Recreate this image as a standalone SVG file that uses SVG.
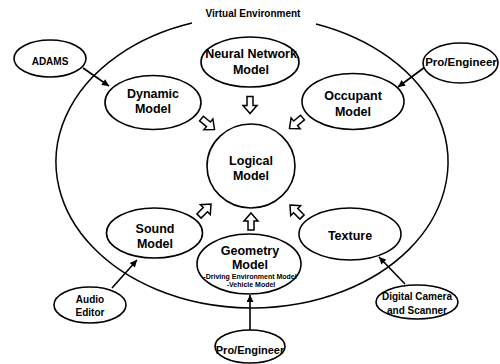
<svg xmlns="http://www.w3.org/2000/svg" width="500" height="364" viewBox="0 0 500 364">
<defs>
<style>
.n{fill:#fff;stroke:#000;stroke-width:1.6}
.env{fill:none;stroke:#000;stroke-width:1.5}
.t{font-family:"Liberation Sans",Arial,sans-serif;font-weight:bold;fill:#000;text-anchor:middle}
.m{font-size:12.5px}
.s{font-size:10.5px}
.x{font-size:7px}
.c{stroke:#000;stroke-width:1.6;fill:none}
.h{fill:#fff;stroke:#000;stroke-width:1.5;stroke-linejoin:miter}
</style>
<marker id="ah" viewBox="0 0 10 10" refX="10" refY="5" markerWidth="8" markerHeight="7" markerUnits="userSpaceOnUse" orient="auto">
<path d="M0,0 L10,5 L0,10 Z" fill="#000"/>
</marker>
<polygon id="ha" points="0,-8.5 7,-0.5 3,-0.5 3,8.5 -3,8.5 -3,-0.5 -7,-0.5"/>
</defs>
<rect width="500" height="364" fill="#fff"/>
<g id="virtual-environment">
<path class="env" d="M192,23 A196,146 0 1 0 316,24"/>
<text class="t" x="253" y="17" font-size="10">Virtual Environment</text>
</g>
<g id="connectors">
<line class="c" x1="83" y1="68" x2="109" y2="86" marker-end="url(#ah)"/>
<line class="c" x1="425" y1="67" x2="398" y2="87" marker-end="url(#ah)"/>
<line class="c" x1="112" y1="288" x2="137" y2="260" marker-end="url(#ah)"/>
<line class="c" x1="405" y1="284" x2="379" y2="257" marker-end="url(#ah)"/>
<line class="c" x1="250" y1="330" x2="250" y2="295" marker-end="url(#ah)"/>
<use href="#ha" class="h" transform="translate(250,105) rotate(180)"/>
<use href="#ha" class="h" transform="translate(208,124) rotate(130)"/>
<use href="#ha" class="h" transform="translate(296,123) rotate(230)"/>
<use href="#ha" class="h" transform="translate(205,210) rotate(45)"/>
<use href="#ha" class="h" transform="translate(251,221.5)"/>
<use href="#ha" class="h" transform="translate(296,211) rotate(-45)"/>
</g>
<g id="adams">
<ellipse class="n" cx="50" cy="58.5" rx="36" ry="18.5"/>
<text class="t" x="50" y="65" font-size="10">ADAMS</text>
</g>
<g id="neural-network-model">
<ellipse class="n" cx="250" cy="62" rx="49" ry="25"/>
<text class="t m" x="251" y="58">Neural Network</text>
<text class="t m" x="251" y="74">Model</text>
</g>
<g id="pro-engineer-top">
<ellipse class="n" cx="460.5" cy="63" rx="37.5" ry="20"/>
<text class="t" x="461" y="66" font-size="11.5">Pro/Engineer</text>
</g>
<g id="dynamic-model">
<ellipse class="n" cx="153" cy="102.5" rx="48" ry="27"/>
<text class="t m" x="153" y="98">Dynamic</text>
<text class="t m" x="153" y="113">Model</text>
</g>
<g id="occupant-model">
<ellipse class="n" cx="353" cy="101.5" rx="51" ry="28"/>
<text class="t m" x="353" y="100">Occupant</text>
<text class="t m" x="353" y="116">Model</text>
</g>
<g id="logical-model">
<ellipse class="n" cx="251" cy="166" rx="44" ry="42"/>
<text class="t m" x="251" y="165">Logical</text>
<text class="t m" x="251" y="180">Model</text>
</g>
<g id="sound-model">
<ellipse class="n" cx="154.5" cy="233" rx="48" ry="25"/>
<text class="t m" x="155" y="233">Sound</text>
<text class="t m" x="155" y="248">Model</text>
</g>
<g id="geometry-model">
<ellipse class="n" cx="249" cy="264" rx="52" ry="30"/>
<text class="t m" x="250" y="255">Geometry</text>
<text class="t m" x="250" y="269">Model</text>
<text class="t x" x="250" y="279">-Driving Environment Model</text>
<text class="t x" x="251" y="287">-Vehicle Model</text>
</g>
<g id="texture">
<ellipse class="n" cx="350" cy="234" rx="51" ry="26"/>
<text class="t m" x="350" y="240">Texture</text>
</g>
<g id="audio-editor">
<ellipse class="n" cx="90" cy="305" rx="36" ry="18"/>
<text class="t" x="90" y="303" font-size="10">Audio</text>
<text class="t" x="90" y="316" font-size="10">Editor</text>
</g>
<g id="digital-camera-scanner">
<ellipse class="n" cx="417" cy="302" rx="41" ry="17"/>
<text class="t" x="417" y="300" font-size="10">Digital Camera</text>
<text class="t" x="417" y="314" font-size="10">and Scanner</text>
</g>
<g id="pro-engineer-bottom">
<ellipse class="n" cx="250" cy="346.5" rx="35" ry="16.5"/>
<text class="t" x="250" y="354" font-size="11">Pro/Engineer</text>
</g>
</svg>
